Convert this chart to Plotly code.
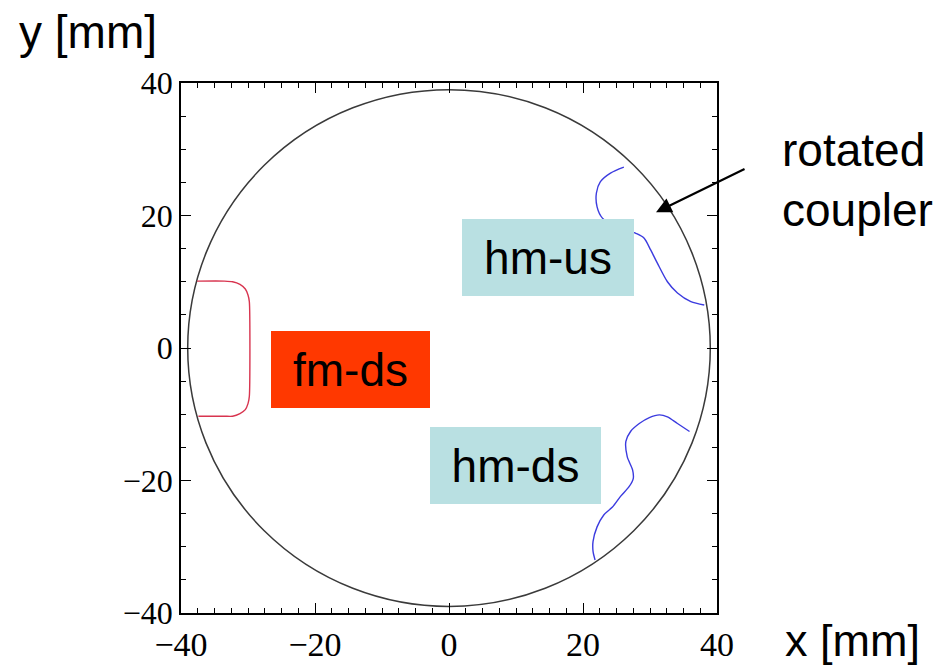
import plotly.graph_objects as go

# Beam-pipe aperture and coupler-kick contours (mm)
aperture_radius = 39.0

fm_ds_x = [-37.6, -33.5, -32.3, -31.2, -30.4, -30.0, -29.8, -29.8, -30.0, -30.4, -31.2, -32.3, -33.5, -37.4]
fm_ds_y = [10.1, 10.1, 10.0, 9.6, 8.9, 8.0, 7.0, -7.3, -8.4, -9.3, -9.9, -10.3, -10.3, -10.3]

hm_us_x = [26.1, 24.1, 22.6, 22.0, 22.1, 22.9, 24.5, 26.3, 27.9, 29.1, 30.1, 31.1, 32.6, 34.1, 36.1, 38.1]
hm_us_y = [27.3, 26.4, 25.1, 23.4, 21.3, 19.6, 18.6, 17.9, 17.3, 16.6, 14.8, 12.8, 10.0, 8.3, 7.0, 6.5]

hm_ds_x = [35.9, 34.1, 32.6, 31.4, 29.9, 28.4, 27.1, 26.4, 26.6, 27.4, 27.5, 26.9, 25.6, 24.4, 23.1, 22.1, 21.5, 21.5, 21.8]
hm_ds_y = [-12.6, -11.4, -10.4, -10.1, -10.5, -11.4, -12.6, -14.1, -16.4, -18.4, -19.7, -20.9, -22.4, -24.0, -25.2, -27.0, -29.2, -30.7, -32.0]

x_ticks = [-40, -20, 0, 20, 40]
y_ticks = [-40, -20, 0, 20, 40]

SANS = "Liberation Sans, Arial, sans-serif"
SERIF = "Liberation Serif, Times New Roman, serif"

fig = go.Figure()

fig.add_trace(go.Scatter(x=fm_ds_x, y=fm_ds_y, mode="lines",
                         line=dict(color="#d8344f", width=1.4, shape="spline", smoothing=0.6),
                         hoverinfo="skip"))
fig.add_trace(go.Scatter(x=hm_us_x, y=hm_us_y, mode="lines",
                         line=dict(color="#3b3bdf", width=1.4, shape="spline", smoothing=0.8),
                         hoverinfo="skip"))
fig.add_trace(go.Scatter(x=hm_ds_x, y=hm_ds_y, mode="lines",
                         line=dict(color="#3b3bdf", width=1.4, shape="spline", smoothing=0.8),
                         hoverinfo="skip"))

# aperture circle
fig.add_shape(type="circle", xref="x", yref="y",
              x0=-aperture_radius, x1=aperture_radius,
              y0=-aperture_radius, y1=aperture_radius,
              line=dict(color="#3a3a3a", width=1.5), layer="below")

axis_common = dict(
    showgrid=False, zeroline=False,
    showline=True, linecolor="black", linewidth=1.5, mirror="ticks",
    ticks="inside", ticklen=10, tickwidth=1.3, tickcolor="black",
    fixedrange=True,
)

fig.update_xaxes(range=[-40, 40], tickvals=x_ticks,
                 tickfont=dict(family=SERIF, size=34, color="black"),
                 minor=dict(dtick=2.5, ticks="inside", ticklen=5, tickwidth=1.2, tickcolor="black"),
                 **axis_common)
fig.update_yaxes(range=[-40, 40], tickvals=y_ticks,
                 tickfont=dict(family=SERIF, size=32, color="black"),
                 minor=dict(dtick=5, ticks="inside", ticklen=5, tickwidth=1.2, tickcolor="black"),
                 **axis_common)

# mode labels
boxes = [
    ("hm-us", 14.8, 13.7, 172, "#b9e0e2"),
    ("fm-ds", -14.7, -3.2, 159, "#ff3800"),
    ("hm-ds", 9.9, -17.7, 171, "#b9e0e2"),
]
for text, bx, by, w, color in boxes:
    fig.add_annotation(x=bx, y=by, xref="x", yref="y", text=text, showarrow=False,
                       width=w, height=77, bgcolor=color, borderpad=0, borderwidth=0,
                       font=dict(family=SANS, size=46, color="black"),
                       xanchor="center", yanchor="middle", align="center")

# axis titles (paper coordinates, outside the plotting area)
fig.add_annotation(x=-0.1735, y=1.096, xref="paper", yref="paper", text="y [mm]",
                   showarrow=False, font=dict(family=SANS, size=46, color="black"),
                   xanchor="center", yanchor="middle")
fig.add_annotation(x=1.2537, y=-0.0512, xref="paper", yref="paper", text="x [mm]",
                   showarrow=False, font=dict(family=SANS, size=45, color="black"),
                   xanchor="center", yanchor="middle")

# coupler callout
fig.add_annotation(x=1.117, y=0.817, xref="paper", yref="paper", text="rotated<br>coupler",
                   showarrow=False, align="left",
                   font=dict(family=SANS, size=46, color="black"),
                   xanchor="left", yanchor="middle")
fig.add_annotation(x=30.9, y=20.5, xref="x", yref="y", text="", showarrow=True,
                   ax=90, ay=-44, arrowhead=2, arrowsize=1.4, arrowwidth=2.2,
                   arrowcolor="black")

fig.update_layout(
    width=944, height=669,
    margin=dict(l=181, r=227, t=83, b=56, autoexpand=False),
    paper_bgcolor="white", plot_bgcolor="white",
    showlegend=False,
)

fig.write_html("out.html")
